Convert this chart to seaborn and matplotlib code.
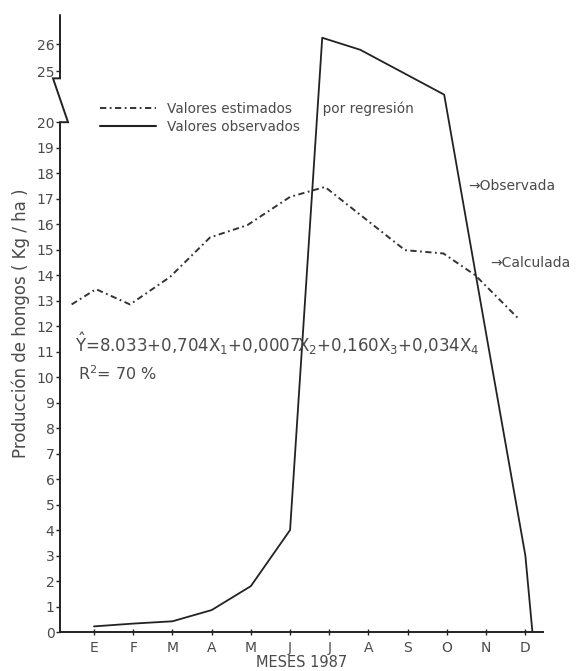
import numpy as np
import pandas as pd
import matplotlib
matplotlib.use("Agg")
import matplotlib.pyplot as plt
import matplotlib.transforms as mtransforms
from matplotlib.lines import Line2D
import seaborn as sns

# ---------------- data ----------------
months = ["E", "F", "M", "A", "M", "J", "J", "A", "S", "O", "N", "D"]

obs_x = [0, 1, 2, 3, 4, 5, 5.82, 6.79, 8.93, 10, 11, 11.18]
obs_y = [0.22, 0.33, 0.42, 0.86, 1.8, 4.0, 26.25, 25.8, 22.7, 11.7, 3.0, 0.0]

est_x = [-0.57, 0.05, 0.92, 1.94, 2.96, 3.91, 5.0, 5.89, 7.93, 8.91, 9.72, 10.82]
est_y = [12.85, 13.45, 12.85, 13.93, 15.48, 15.96, 17.07, 17.46, 14.98, 14.85, 14.0, 12.3]

yticks = list(range(0, 21)) + [25, 26]

legend_labels = ["Valores estimados       por regresión", "Valores observados"]
equation = r"$\hat{\mathrm{Y}}$=8.033+0,704X$_1$+0,0007X$_2$+0,160X$_3$+0,034X$_4$"
r2_text = r"R$^2$= 70 %"
xlabel = "MESES 1987"
ylabel = "Producción de hongos ( Kg / ha )"

# ---------------- style ----------------
sns.set_style("ticks")
plt.rcParams["font.family"] = ["DejaVu Sans"]
plt.rcParams["lines.scale_dashes"] = False
TXT = "#4a4a4a"
LINE = "#222222"

fig = plt.figure(figsize=(5.79, 6.71), dpi=100)
ax = fig.add_axes([60 / 579, 1 - 632 / 671, 483 / 579, 617 / 671])


def fwd(y):
    y = np.asarray(y, dtype=float)
    return np.where(y <= 20, y,
                    np.where(y <= 25, 20 + (y - 20) * 0.4, 22 + (y - 25) * 1.05))


def inv(u):
    u = np.asarray(u, dtype=float)
    return np.where(u <= 20, u,
                    np.where(u <= 22, 20 + (u - 20) / 0.4, 25 + (u - 22) / 1.05))


ax.set_yscale("function", functions=(fwd, inv))

df_obs = pd.DataFrame({"x": obs_x, "y": obs_y})
df_est = pd.DataFrame({"x": est_x, "y": est_y})

sns.lineplot(data=df_est, x="x", y="y", ax=ax, sort=False, estimator=None,
             color="#333333", lw=1.4, dashes=False, legend=False)
ax.lines[-1].set_dashes((4.5, 2.5, 1.3, 2.5))
sns.lineplot(data=df_obs, x="x", y="y", ax=ax, sort=False, estimator=None,
             color=LINE, lw=1.3, legend=False, clip_on=False)

ax.set_xlim(-0.867, 11.45)
ax.set_ylim(0, 27.1)
ax.set_yticks(yticks)
ax.set_yticklabels([str(v) for v in yticks])
ax.yaxis.set_minor_locator(matplotlib.ticker.NullLocator())
ax.set_xticks(range(len(months)))
ax.set_xticklabels(months)

for s in ["top", "right", "left"]:
    ax.spines[s].set_visible(False)
ax.spines["bottom"].set_color(LINE)
ax.spines["bottom"].set_linewidth(1.4)

# y axis with the break
trans = mtransforms.blended_transform_factory(ax.transAxes, ax.transData)
ax.plot([0, 0, 0.0166, -0.0145, 0, 0], [0, 20, 20, 24.3, 24.3, 27.1],
        transform=trans, color=LINE, lw=1.4, clip_on=False,
        solid_joinstyle="miter")

ax.tick_params(axis="y", direction="out", length=3, width=1, color=LINE,
               labelsize=10, labelcolor=TXT, pad=1)
ax.tick_params(axis="x", direction="inout", length=5, width=1, color=LINE,
               labelsize=10, labelcolor=TXT, pad=4)

ax.set_xlabel(xlabel, fontsize=10.5, color=TXT, labelpad=0)
ax.set_ylabel(ylabel, fontsize=12, color=TXT)
ax.yaxis.set_label_coords(-0.062, 0.5)

# legend
handles = [Line2D([], [], color="#333333", lw=1.4, dashes=(4.5, 2.5, 1.3, 2.5)),
           Line2D([], [], color=LINE, lw=1.5)]
leg = ax.legend(handles, legend_labels, loc="upper left",
                bbox_to_anchor=(100 / 579, 1 - 101 / 671), bbox_transform=fig.transFigure,
                frameon=False, fontsize=9.8, handlelength=4.1, handletextpad=0.8,
                labelspacing=0.3, borderpad=0, borderaxespad=0)
for t in leg.get_texts():
    t.set_color(TXT)

# equation text
ax.text(-0.485, 11.3, equation, fontsize=12, color=TXT, va="center", ha="left")
ax.text(-0.41, 10.15, r2_text, fontsize=11.5, color=TXT, va="center", ha="left")

# right side labels
ax.text(9.54, 17.5, "→Observada", fontsize=10, color=TXT, va="center", ha="left",
        clip_on=False)
ax.text(10.1, 14.47, "→Calculada", fontsize=10, color=TXT, va="center", ha="left",
        clip_on=False)

fig.savefig("out.png", dpi=100, facecolor="white")
